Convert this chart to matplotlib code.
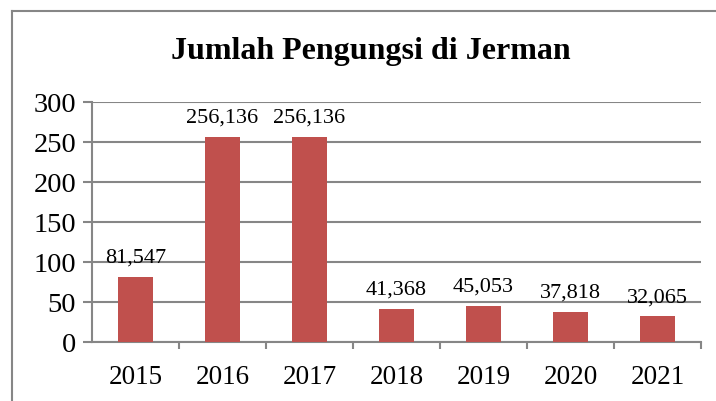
import matplotlib.pyplot as plt
from matplotlib.lines import Line2D

years = ['2015', '2016', '2017', '2018', '2019', '2020', '2021']
values = [81.547, 256.136, 256.136, 41.368, 45.053, 37.818, 32.065]
labels = ['81,547', '256,136', '256,136', '41,368', '45,053', '37,818', '32,065']

plt.rcParams['font.family'] = ['Liberation Serif', 'DejaVu Serif']

W, H = 716, 402
fig = plt.figure(figsize=(W / 100, H / 100), dpi=100)

# outer chart border, only left and top visible (rest is cut off)
bx, by = 11.5 / W, 1 - 12 / H
fig.lines.append(Line2D([bx, bx], [-0.05, by], transform=fig.transFigure,
                        color='#868686', linewidth=1.5))
fig.lines.append(Line2D([bx, 1.05], [by, by], transform=fig.transFigure,
                        color='#868686', linewidth=1.5))

ax = fig.add_axes([92 / W, 1 - 343 / H, (701 - 92) / W, (343 - 103) / H])
x = range(len(years))
ax.bar(x, values, width=0.4, color='#C0504D', zorder=3)
for xi, v, lab in zip(x, values, labels):
    ax.text(xi, v + 19, lab, ha='center', va='baseline', fontsize=16, zorder=4)

ax.set_xlim(-0.5, len(years) - 0.5)
ax.set_ylim(0, 300)
ax.set_yticks(range(0, 301, 50))
ax.grid(axis='y', color='#868686', linewidth=1.5, zorder=0)
for s in ['top', 'right']:
    ax.spines[s].set_visible(False)
for s in ['left', 'bottom']:
    ax.spines[s].set_color('#868686')
    ax.spines[s].set_linewidth(1.5)

ax.set_xticks(x)
ax.set_xticklabels(years, fontsize=19.5)
ax.tick_params(axis='x', length=0, pad=16)
ax.set_xticks([i + 0.5 for i in x], minor=True)
ax.tick_params(axis='x', which='minor', length=5, width=1.5, color='#868686', direction='out')
ax.tick_params(axis='y', length=6.5, width=1.5, color='#868686', labelsize=20.5, pad=5)

fig.text(371 / W, 1 - 52 / H, 'Jumlah Pengungsi di Jerman', ha='center', va='center',
         fontsize=23, fontweight='bold')

fig.savefig('out.png', dpi=100)
